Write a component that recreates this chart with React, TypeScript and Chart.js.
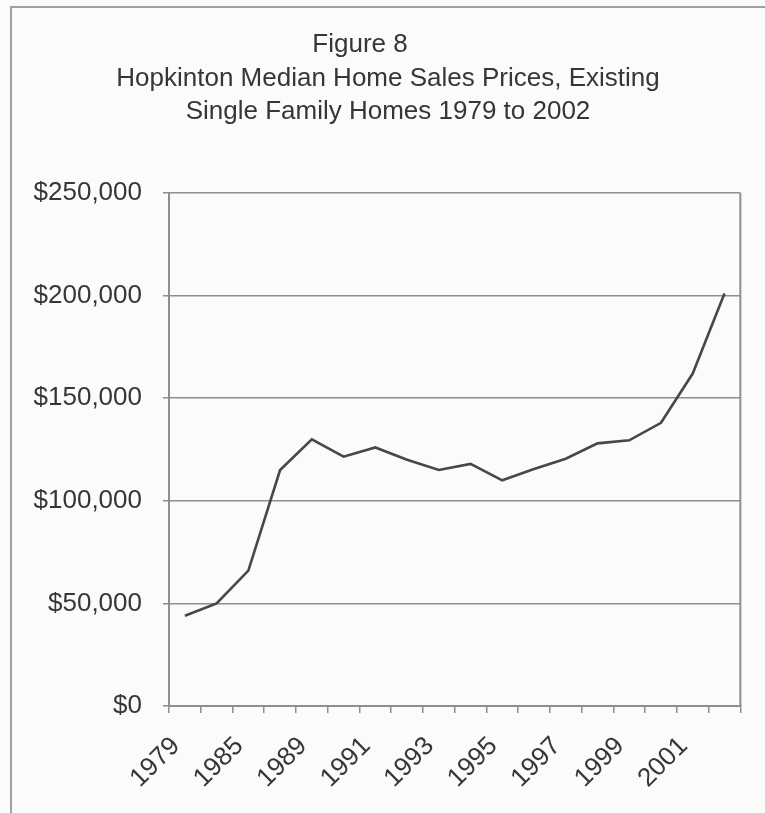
import React, { useEffect, useRef } from 'react';
import { Chart, registerables } from 'chart.js';

Chart.register(...registerables);

const years = ['1979', '1983', '1985', '1987', '1989', '1990', '1991', '1992', '1993', '1994', '1995', '1996', '1997', '1998', '1999', '2000', '2001', '2002'];
const medianPrices = [44000, 50000, 66000, 115000, 130000, 121500, 126000, 120000, 115000, 118000, 110000, 115500, 120500, 128000, 129500, 138000, 162000, 201000];
const yTickValues = [0, 50000, 100000, 150000, 200000, 250000];
const titleLines = ['Figure 8', 'Hopkinton Median Home Sales Prices, Existing', 'Single Family Homes 1979 to 2002'];

const FONT = '"Liberation Sans", Arial, Helvetica, sans-serif';
const TEXT = '#363636';
const GRID = '#8e8e8e';

const plotRightBorder = {
  id: 'plotRightBorder',
  afterDraw(chart: any) {
    const { ctx, chartArea } = chart;
    ctx.save();
    ctx.strokeStyle = GRID;
    ctx.lineWidth = 2;
    ctx.beginPath();
    ctx.moveTo(chartArea.right, chartArea.top);
    ctx.lineTo(chartArea.right, chartArea.bottom);
    ctx.stroke();
    ctx.restore();
  },
};

export default function App() {
  const ref = useRef<HTMLCanvasElement>(null);

  useEffect(() => {
    document.body.style.margin = '0';
    document.body.style.overflow = 'hidden';
    document.body.style.background = '#fbfbfb';
    const chart = new Chart(ref.current as HTMLCanvasElement, {
      type: 'line',
      data: {
        labels: years,
        datasets: [
          {
            data: medianPrices,
            borderColor: '#474747',
            borderWidth: 2.6,
            pointRadius: 0,
            tension: 0,
            fill: false,
          },
        ],
      },
      options: {
        animation: false,
        responsive: false,
        devicePixelRatio: 1,
        layout: { padding: { top: 193, right: 17, left: 0, bottom: 0 } },
        plugins: {
          legend: { display: false },
          tooltip: { enabled: false },
          title: { display: false },
        },
        scales: {
          x: {
            type: 'category',
            offset: true,
            afterFit: (s: any) => {
              s.height = 107;
            },
            grid: {
              offset: true,
              drawOnChartArea: false,
              drawTicks: true,
              tickLength: 7,
              color: GRID,
              lineWidth: 1.5,
            },
            border: { display: true, color: GRID, width: 2 },
            ticks: {
              autoSkip: false,
              maxRotation: 45,
              minRotation: 45,
              padding: 18,
              labelOffset: -9,
              color: TEXT,
              font: { family: FONT, size: 26 },
              callback: (_v: any, i: number) => (i % 2 === 0 ? years[i] : ''),
            },
          },
          y: {
            min: 0,
            max: 250000,
            afterFit: (s: any) => {
              s.width = 169;
            },
            afterBuildTicks: (s: any) => {
              s.ticks = yTickValues.map((v) => ({ value: v }));
            },
            grid: {
              color: GRID,
              lineWidth: 1.5,
              drawTicks: true,
              tickLength: 6,
            },
            border: { display: true, color: GRID, width: 2 },
            ticks: {
              padding: 21,
              color: TEXT,
              font: { family: FONT, size: 26 },
              callback: (v: any) => '$' + Number(v).toLocaleString('en-US'),
            },
          },
        },
      },
      plugins: [plotRightBorder],
    });
    return () => chart.destroy();
  }, []);

  const titleStyle = (top: number, left: number, width: number): React.CSSProperties => ({
    position: 'absolute',
    top,
    left,
    width,
    textAlign: 'center',
    fontFamily: FONT,
    fontSize: 26,
    lineHeight: '26px',
    color: TEXT,
    whiteSpace: 'nowrap',
  });

  return (
    <div style={{ position: 'relative', width: 765, height: 813, background: '#fbfbfb', overflow: 'hidden' }}>
      <div
        style={{
          position: 'absolute',
          left: 10,
          top: 6,
          width: 755,
          height: 807,
          borderLeft: '2px solid #a0a0a0',
          borderTop: '2px solid #a0a0a0',
          boxSizing: 'border-box',
        }}
      />
      <canvas ref={ref} width={765} height={813} style={{ position: 'absolute', left: 0, top: 0 }} />
      <div style={titleStyle(30, 160, 400)}>{titleLines[0]}</div>
      <div style={titleStyle(64, 88, 600)}>{titleLines[1]}</div>
      <div style={titleStyle(97, 88, 600)}>{titleLines[2]}</div>
    </div>
  );
}
